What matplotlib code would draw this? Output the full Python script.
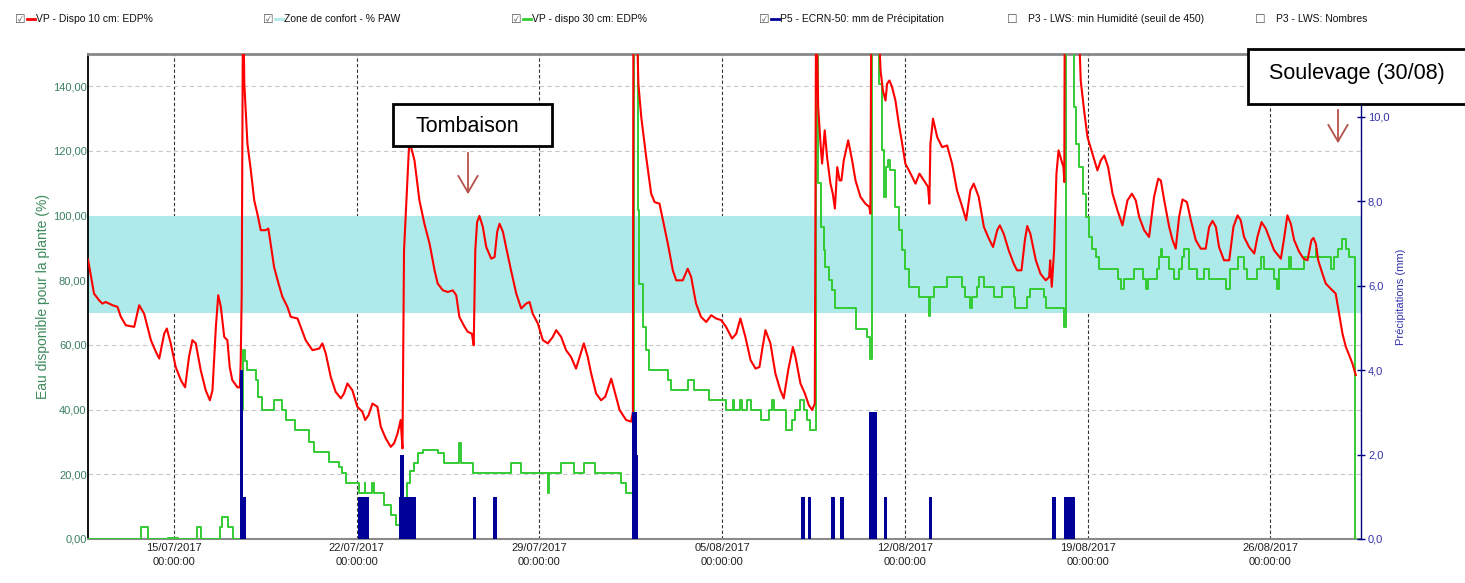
import numpy as np
import pandas as pd
import matplotlib
matplotlib.use("Agg")
import matplotlib.pyplot as plt
import matplotlib.dates as mdates
from matplotlib.ticker import FuncFormatter, FixedLocator, MultipleLocator
from matplotlib.patches import Rectangle, FancyArrowPatch
from matplotlib.lines import Line2D

# ---------------- data (days after 15/07/2017 00:00) ----------------
red_days = [-3.30, -3.07, -2.87, -2.75, -2.62, -2.36, -2.17, -2.04, -1.85, -1.53, -1.34, -1.15,
            -0.89, -0.70, -0.57, -0.38, -0.28, -0.13, 0.06, 0.26, 0.42, 0.57, 0.70, 0.83, 1.02,
            1.21, 1.37, 1.47, 1.60, 1.69, 1.79, 1.92, 2.04, 2.13, 2.23, 2.43, 2.52, 2.55, 2.59,
            2.64, 2.69, 2.81, 2.94, 3.07, 3.19, 3.32, 3.51, 3.61, 3.70, 3.83, 4.00, 4.15, 4.34,
            4.47, 4.73, 4.85, 5.04, 5.30, 5.56, 5.68, 5.81, 6.00, 6.19, 6.39, 6.51, 6.64, 6.83,
            7.02, 7.22, 7.32, 7.45, 7.60, 7.79, 7.92, 8.11, 8.30, 8.43, 8.56, 8.68, 8.75, 8.81,
            8.90, 9.00, 9.08, 9.21, 9.40, 9.59, 9.79, 9.98, 10.10, 10.30, 10.49, 10.68, 10.81,
            10.93, 11.13, 11.25, 11.41, 11.48, 11.54, 11.61, 11.70, 11.83, 11.96, 12.15, 12.28,
            12.38, 12.47, 12.60, 12.72, 12.91, 13.11, 13.30, 13.49, 13.62, 13.74, 13.94, 14.13,
            14.32, 14.51, 14.64, 14.83, 15.02, 15.21, 15.40, 15.60, 15.70, 15.85, 15.98, 16.17,
            16.36, 16.52, 16.75, 16.87, 17.07, 17.32, 17.51, 17.58, 17.60, 17.70, 17.79, 17.90,
            18.09, 18.28, 18.41, 18.60, 18.73, 18.92, 19.11, 19.24, 19.49, 19.68, 19.81, 20.00,
            20.19, 20.39, 20.58, 20.77, 20.96, 21.15, 21.38, 21.54, 21.70, 21.89, 22.09, 22.28,
            22.43, 22.53, 22.66, 22.85, 23.04, 23.23, 23.36, 23.53, 23.71, 23.81, 24.00, 24.17,
            24.32, 24.45, 24.55, 24.60, 24.68, 24.77, 24.83, 24.93, 25.02, 25.15, 25.24, 25.32,
            25.41, 25.50, 25.57, 25.66, 25.83, 25.98, 26.11, 26.30, 26.49, 26.64, 26.68, 26.72,
            26.94, 27.07, 27.16, 27.26, 27.32, 27.41, 27.51, 27.64, 27.77, 27.90, 28.02, 28.22,
            28.41, 28.56, 28.73, 28.89, 28.94, 28.98, 29.08, 29.24, 29.43, 29.62, 29.81, 30.00,
            30.20, 30.35, 30.51, 30.64, 30.83, 31.03, 31.22, 31.38, 31.54, 31.64, 31.79, 31.98,
            32.17, 32.30, 32.47, 32.60, 32.69, 32.81, 33.02, 33.20, 33.40, 33.53, 33.57, 33.63,
            33.72, 33.81, 33.89, 34.00, 34.08, 34.11, 34.13, 34.62, 34.74, 34.87, 35.00, 35.19,
            35.38, 35.51, 35.64, 35.79, 35.96, 36.15, 36.34, 36.53, 36.70, 36.85, 36.98, 37.17,
            37.36, 37.55, 37.71, 37.81, 37.94, 38.13, 38.26, 38.38, 38.51, 38.64, 38.81, 38.96,
            39.15, 39.34, 39.53, 39.66, 39.79, 39.92, 40.04, 40.23, 40.43, 40.59, 40.75, 40.87,
            41.00, 41.19, 41.39, 41.51, 41.67, 41.83, 42.00, 42.15, 42.41, 42.54, 42.66, 42.79,
            42.92, 43.11, 43.28, 43.43, 43.58, 43.66, 43.75, 43.84, 44.00, 44.13, 44.32, 44.51,
            44.64, 44.77, 44.90, 45.03, 45.15, 45.28]
red_values = [86.5, 75.9, 73.8, 72.8, 73.3, 72.3, 71.8, 68.7, 66.1, 65.6, 72.3, 69.7,
              61.5, 57.9, 55.8, 63.5, 65.1, 60.5, 53.2, 49.1, 46.9, 56.3, 61.5, 60.5, 52.2,
              46.0, 42.9, 46.0, 65.6, 75.4, 71.8, 62.5, 61.5, 53.2, 49.1, 46.9, 46.9, 54.3, 75.9,
              170.0, 140.8, 122.2, 114.0, 104.7, 100.6, 95.5, 95.5, 96.0, 91.3, 84.1, 79.0, 74.9, 71.8,
              68.7, 68.2, 65.6, 61.5, 58.4, 58.9, 60.5, 57.4, 50.2, 45.5, 43.5, 45.0, 48.1, 46.0,
              40.9, 39.3, 36.8, 38.3, 41.9, 40.9, 34.7, 31.1, 28.5, 29.6, 32.6, 36.8, 28.0, 89.3,
              104.7, 121.2, 121.2, 117.1, 104.7, 97.5, 91.3, 83.1, 79.0, 76.9, 76.4, 76.9, 75.4,
              68.7, 65.6, 64.1, 63.5, 59.9, 89.3, 98.0, 99.9, 96.5, 90.3, 86.7, 87.2,
              95.0, 97.5, 95.0, 90.3, 83.1, 75.9, 71.3, 72.8, 73.3, 69.7, 66.6, 61.5,
              60.5, 62.5, 64.6, 62.5, 58.4, 56.3, 52.7, 57.9, 60.5, 56.3, 51.2, 45.0,
              42.9, 44.0, 49.6, 46.0, 39.9, 36.8, 36.3, 39.3, 170.0, 170.0, 140.8, 130.5,
              118.1, 106.8, 104.2, 103.7, 98.6, 91.3, 83.1, 80.0, 80.0, 83.6, 81.1, 72.8,
              68.7, 67.1, 69.2, 68.2, 67.7, 65.6, 62.0, 63.5, 68.2, 62.5, 55.3, 52.7,
              53.2, 58.4, 64.6, 60.5, 51.2, 46.0, 43.5, 52.2, 59.4, 56.3, 48.1, 45.0,
              41.4, 39.9, 41.9, 170.0, 133.6, 122.2, 116.1, 126.4, 118.1, 109.9, 106.8, 102.2,
              115.0, 110.9, 110.9, 117.1, 123.3, 117.1, 110.9, 105.8, 103.7, 102.7, 100.6, 170.0,
              170.0, 144.9, 138.7, 135.6, 140.8, 141.8, 139.8, 135.6, 128.4, 122.2, 116.1, 113.0,
              109.9, 113.0, 110.9, 108.9, 103.7, 122.2, 130.0, 124.3, 121.2, 121.7, 116.1, 107.8,
              102.7, 98.6, 107.8, 109.9, 105.8, 96.5, 92.9, 90.3, 95.5, 97.0, 94.4, 89.3,
              85.2, 83.1, 83.1, 92.4, 96.8, 94.4, 86.2, 82.0, 80.0, 81.0, 86.2, 78.0,
              89.3, 113.0, 120.2, 117.1, 115.0, 110.4, 170.0, 170.0, 141.8, 132.5, 124.3, 119.2,
              114.0, 117.1, 118.6, 115.0, 106.8, 101.6, 97.0, 104.7, 106.8, 104.7, 99.6, 95.5,
              93.4, 105.8, 111.4, 110.9, 104.7, 96.5, 92.4, 89.8, 99.6, 105.0, 104.2, 98.6,
              92.4, 89.8, 89.8, 96.5, 98.4, 96.5, 90.3, 86.2, 86.2, 96.5, 100.1, 98.6,
              93.4, 90.3, 88.3, 93.4, 98.0, 96.0, 92.4, 89.3, 86.7, 93.4, 100.1, 97.5,
              92.4, 88.8, 86.7, 86.2, 92.4, 93.1, 91.3, 86.2, 82.1, 79.0, 77.4, 75.9,
              69.7, 63.5, 59.4, 56.8, 54.3, 50.7]

green_days = [-3.30, -1.25, -1.02, -0.25, 0.15, 0.88, 1.02, 1.76, 1.83, 2.06, 2.25, 2.60,
              2.64, 2.72, 2.80, 3.14, 3.23, 3.36, 3.81, 4.15, 4.28, 4.64, 5.17, 5.36, 5.94,
              6.32, 6.45, 6.58, 7.09, 7.30, 7.33, 7.60, 7.65, 8.05, 8.30, 8.49, 8.68, 8.85,
              8.94, 9.05, 9.20, 9.34, 9.53, 10.10, 10.36, 10.93, 10.98, 11.45, 12.91, 13.30,
              14.32, 14.36, 14.83, 15.34, 15.72, 16.11, 17.13, 17.32, 17.64, 17.70, 17.77,
              17.83, 17.96, 18.09, 18.21, 18.92, 19.05, 19.68, 19.94, 20.51, 21.13, 21.40,
              21.45, 21.70, 21.75, 21.96, 22.09, 22.47, 22.79, 22.92, 22.98, 23.43, 23.68,
              23.81, 24.00, 24.13, 24.26, 24.38, 24.61, 24.68, 24.77, 24.90, 24.96, 25.09,
              25.21, 25.34, 26.11, 26.56, 26.68, 26.75, 27.00, 27.13, 27.19, 27.28, 27.36,
              27.45, 27.64, 27.77, 27.90, 28.02, 28.15, 28.54, 28.94, 28.98, 29.11, 29.62,
              30.20, 30.32, 30.51, 30.58, 30.77, 30.83, 31.03, 31.41, 31.73, 32.17, 32.24,
              32.69, 32.81, 33.34, 33.40, 34.11, 34.17, 34.49, 34.55, 34.68, 34.81, 34.94,
              35.06, 35.19, 35.32, 35.45, 36.15, 36.28, 36.40, 36.79, 37.11, 37.23, 37.30,
              37.68, 37.74, 37.81, 37.87, 38.13, 38.32, 38.51, 38.64, 38.70, 38.90, 39.21,
              39.47, 39.66, 40.30, 40.47, 40.75, 41.00, 41.13, 41.51, 41.64, 41.77, 42.15,
              42.28, 42.34, 42.73, 42.79, 43.30, 43.75, 43.81, 44.32, 44.45, 44.58, 44.77,
              44.90, 45.03, 45.25, 45.29, 45.32]
green_values = [0.0, 3.8, 0.0, 0.4, 0.0, 3.6, 0.0, 3.8, 6.9, 3.8, 0.0, 40.0,
                58.4, 55.0, 52.2, 49.1, 44.0, 39.9, 43.0, 39.9, 36.8, 33.7, 30.1, 27.0, 23.9,
                22.3, 20.3, 17.2, 14.1, 17.2, 14.1, 17.2, 14.1, 10.5, 7.4, 4.3, 3.7, 12.0,
                17.2, 21.0, 23.4, 26.5, 27.5, 26.5, 23.4, 29.6, 23.4, 20.3, 23.4, 20.3,
                14.1, 20.3, 23.4, 20.3, 23.4, 20.3, 17.2, 14.1, 170.0, 170.0, 101.6,
                79.0, 65.6, 58.4, 52.2, 49.1, 46.0, 49.1, 46.0, 43.0, 39.9, 43.0,
                39.9, 43.0, 39.9, 43.0, 39.9, 36.8, 39.9, 43.0, 39.9, 33.7, 36.8,
                39.9, 43.0, 39.9, 36.8, 33.7, 170.0, 110.0, 96.5, 89.3, 84.1, 80.0,
                77.0, 71.3, 65.1, 62.5, 55.8, 170.0, 140.8, 120.2, 105.8, 115.0, 117.1,
                114.0, 102.7, 95.5, 89.3, 83.6, 78.0, 75.0, 69.0, 75.0, 78.0, 81.1,
                78.0, 75.0, 71.3, 75.0, 78.0, 81.1, 78.0, 75.0, 78.0, 75.0, 71.3,
                75.0, 77.4, 75.0, 71.3, 65.6, 170.0, 133.6, 122.2, 115.0, 106.8, 99.6,
                93.4, 89.8, 87.2, 83.6, 80.5, 77.4, 80.5, 83.6, 80.5, 77.4, 80.5,
                83.6, 87.2, 89.8, 87.2, 83.6, 80.5, 83.6, 87.2, 89.8, 83.6, 80.5,
                83.6, 80.5, 77.4, 83.6, 87.2, 83.6, 80.5, 83.6, 87.2, 83.6, 80.5,
                77.4, 83.6, 87.2, 83.6, 87.2, 89.8, 87.2, 83.6, 87.2, 89.8, 92.9,
                89.8, 87.2, 0.0, 0.0, 0.0]

rain_days = [2.58, 2.68, 7.11, 7.17, 7.23, 7.29, 7.35, 7.41, 8.68, 8.74, 8.80, 8.86, 8.92,
             8.98, 9.04, 9.19, 11.51, 12.30, 17.60, 17.66, 17.72, 24.09, 24.35, 25.24, 25.60,
             26.68, 26.74, 26.80, 26.86, 27.26, 28.98, 33.72, 34.17, 34.23, 34.29, 34.35,
             34.41, 34.46]
rain_mm = [4.0, 1.0, 1.0, 1.0, 1.0, 1.0, 1.0, 1.0, 1.0, 2.0, 1.0, 1.0, 1.0,
           1.0, 1.0, 1.0, 1.0, 1.0, 3.0, 3.0, 2.0, 1.0, 1.0, 1.0, 1.0,
           3.0, 3.0, 3.0, 3.0, 1.0, 1.0, 1.0, 1.0, 1.0, 1.0, 1.0,
           1.0, 1.0]

comfort_low, comfort_high = 70, 100
tick_dates = ["15/07/2017", "22/07/2017", "29/07/2017", "05/08/2017",
              "12/08/2017", "19/08/2017", "26/08/2017"]
start_date = "2017-07-15"
x_range_days = [-3.30, 45.48]

legend_labels = ["VP - Dispo 10 cm: EDP%", "Zone de confort - % PAW", "VP - dispo 30 cm: EDP%",
                 "P5 - ECRN-50: mm de Précipitation", "P3 - LWS: min Humidité (seuil de 450)",
                 "P3 - LWS: Nombres"]
legend_checked = [True, True, True, True, False, False]

# ---------------- styling ----------------
RED = "#ff0000"
GREEN = "#33cc33"
CYAN = "#afeaea"
NAVY = "#000099"
legend_colors = [RED, CYAN, GREEN, NAVY, None, None]

plt.rcParams["font.family"] = ["Liberation Sans", "DejaVu Sans"]

W, H = 1465, 583
fig = plt.figure(figsize=(W / 100, H / 100), dpi=100)
fig.patch.set_facecolor("white")


def fx(x):
    return x / W


def fy(y):
    return 1 - y / H


ax = fig.add_axes([fx(88), fy(539), fx(1361) - fx(88), fy(54) - fy(539)])
ax2 = ax.twinx()

base = mdates.date2num(pd.Timestamp(start_date))
to_x = lambda d: base + np.asarray(d, dtype=float)

# comfort band
ax.axhspan(comfort_low, comfort_high, color=CYAN, zorder=1, lw=0)

# series
ax.plot(to_x(green_days), green_values, color=GREEN, lw=1.4, drawstyle="steps-post", zorder=3)
ax.plot(to_x(red_days), red_values, color=RED, lw=1.5, zorder=4)

ax2.bar(to_x(rain_days), rain_mm, width=0.14, color=NAVY, lw=0, align="center", zorder=3)

# axes ranges
ax.set_xlim(to_x(x_range_days[0]), to_x(x_range_days[1]))
ax.set_ylim(0, 150)
ax2.set_ylim(0, 11.49)

# ticks
tick_pos = [mdates.date2num(pd.to_datetime(t, format="%d/%m/%Y")) for t in tick_dates]
ax.xaxis.set_major_locator(FixedLocator(tick_pos))
ax.set_xticklabels([t + "\n00:00:00" for t in tick_dates], fontsize=8, color="#222222",
                   linespacing=1.45)
ax.tick_params(axis="x", length=0, pad=3)

ax.yaxis.set_major_locator(MultipleLocator(20))
ax.yaxis.set_major_formatter(FuncFormatter(lambda v, p: f"{v:.2f}".replace(".", ",")))
ax.tick_params(axis="y", length=0, pad=1, labelsize=8, labelcolor="#3b8060")

ax2.yaxis.set_major_locator(MultipleLocator(2))
ax2.yaxis.set_major_formatter(FuncFormatter(lambda v, p: f"{v:.1f}".replace(".", ",")))
ax2.tick_params(axis="y", direction="inout", length=6, width=1, color="#000080",
                labelsize=8, labelcolor="#3333aa", pad=2)

# grid
ax.set_axisbelow(True)
ax.grid(axis="y", color="#c8c8c8", ls=(0, (4, 3)), lw=0.8, zorder=0.5)
ax.grid(axis="x", color="#333333", ls=(0, (3, 2)), lw=0.8, zorder=0.5)

# spines
ax.spines["left"].set_color("black")
ax.spines["left"].set_linewidth(1.3)
ax.spines["top"].set_color("#888888")
ax.spines["top"].set_linewidth(2)
ax.spines["bottom"].set_color("#8a8a8a")
ax.spines["bottom"].set_linewidth(1.5)
ax.spines["right"].set_visible(False)
for s in ["left", "top", "bottom"]:
    ax2.spines[s].set_visible(False)
ax2.spines["right"].set_color("#000080")
ax2.spines["right"].set_linewidth(1)

# axis labels
ax.set_ylabel("Eau disponible pour la plante (%)", fontsize=10, color="#3b8a5a", labelpad=2)
ax2.set_ylabel("Précipitations (mm)", fontsize=8, color="#3333aa", labelpad=5)

# ---------------- legend (top row) ----------------
for i, (lab, chk, col) in enumerate(zip(legend_labels, legend_checked, legend_colors)):
    x0 = 16 + 248 * i
    fig.text(fx(x0 - 1), fy(19), "\u2611" if chk else "\u2610", family="DejaVu Sans",
             fontsize=8.5, color="#555555", va="center", ha="left")
    if col is not None:
        fig.add_artist(Line2D([fx(x0 + 11), fx(x0 + 19)], [fy(18.5), fy(18.5)],
                              color=col, lw=2, transform=fig.transFigure))
    fig.text(fx(x0 + 20), fy(19.5), lab, fontsize=7.5, color="#111111", va="center", ha="left")

# ---------------- annotations ----------------
def box(x0, y0, x1, y1):
    fig.add_artist(Rectangle((fx(x0), fy(y1)), fx(x1) - fx(x0), fy(y0) - fy(y1),
                             transform=fig.transFigure, facecolor="white",
                             edgecolor="black", lw=2, zorder=10, clip_on=False))


def arrow(x, y0, y1):
    fig.add_artist(FancyArrowPatch((fx(x), fy(y0)), (fx(x), fy(y1)), transform=fig.transFigure,
                                   arrowstyle="->,head_length=1.2,head_width=0.7",
                                   mutation_scale=10, color="#b5504a", lw=1.3, zorder=10))


box(393, 104, 552, 146)
fig.text(fx(415), fy(126), "Tombaison", fontsize=15.5, va="center", ha="left", zorder=11)
arrow(468, 150, 197)

box(1248, 49, 1475, 104)
fig.text(fx(1269), fy(73), "Soulevage (30/08)", fontsize=15.5, va="center", ha="left", zorder=11)
arrow(1338, 107, 146)

fig.savefig("out.png", dpi=100)
